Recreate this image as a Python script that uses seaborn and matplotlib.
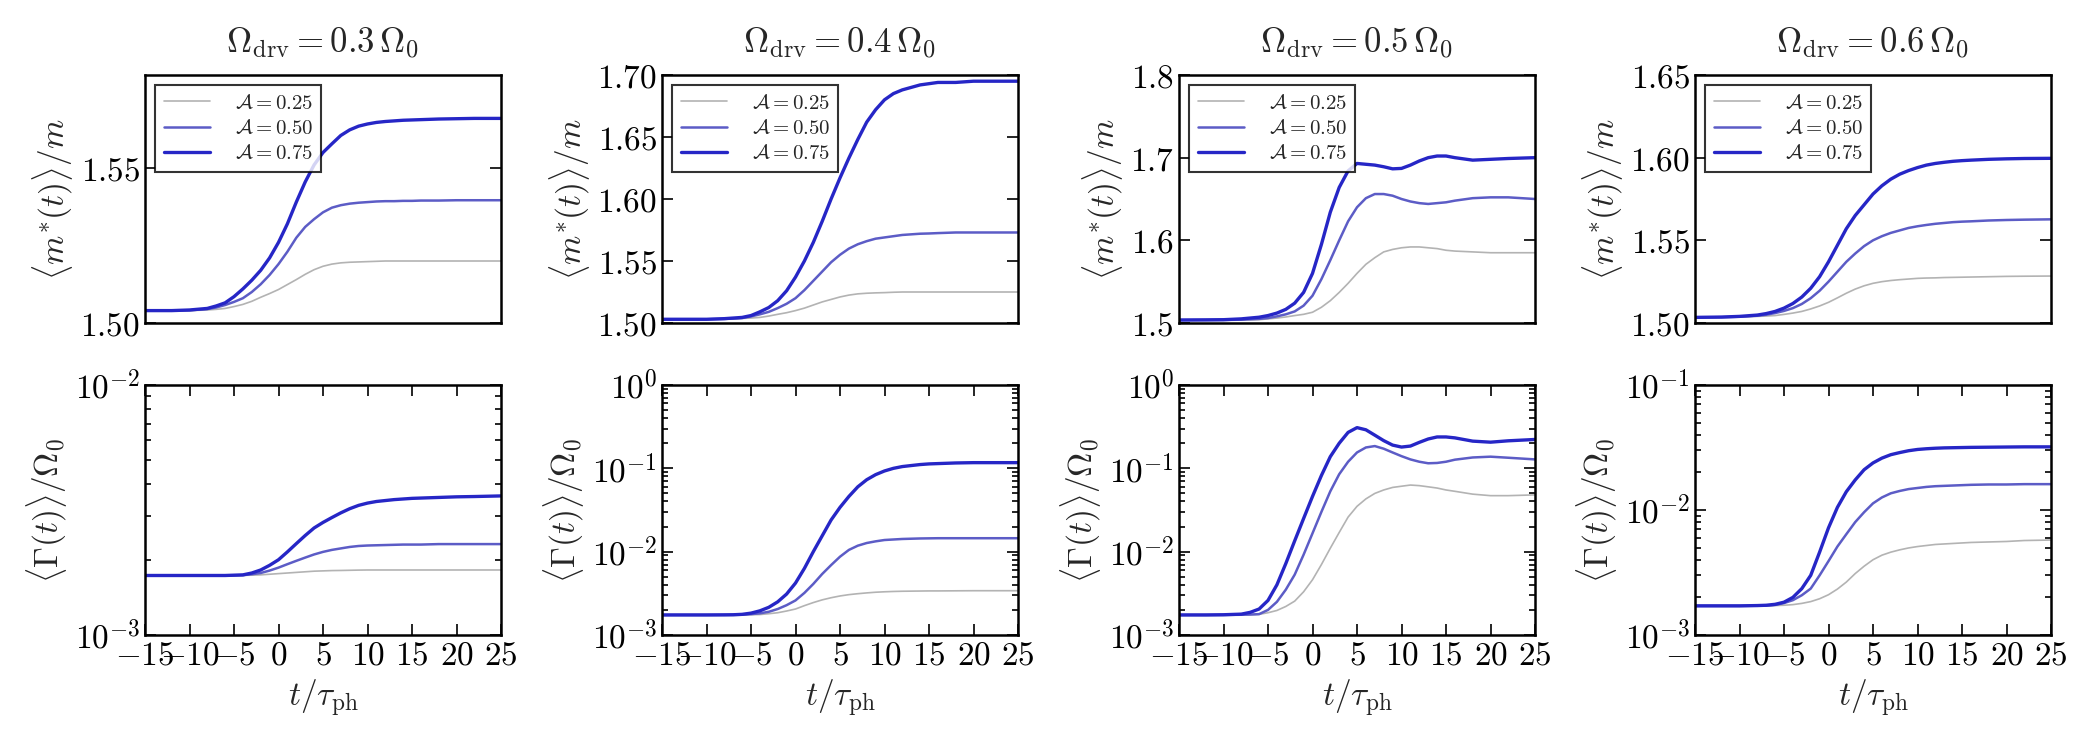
import numpy as np
import pandas as pd
import seaborn as sns
import matplotlib
matplotlib.use("Agg")
import matplotlib.pyplot as plt
from matplotlib.ticker import FuncFormatter, LogLocator, NullFormatter

# time grid (t / tau_ph) shared by all curves
t = [-15, -12, -10, -8, -7, -6, -5, -4, -3, -2, -1, 0, 1, 2, 3, 4, 5, 6, 7, 8,
     9, 10, 11, 12, 13, 14, 15, 16, 18, 20, 22, 25]

drive = ["0.3", "0.4", "0.5", "0.6"]
amp_labels = ["0.25", "0.50", "0.75"]

# effective mass <m*(t)>/m, one list per amplitude, per drive frequency
mass_03_a25 = [1.504, 1.504, 1.504, 1.5042, 1.5044, 1.5047, 1.5053, 1.506, 1.507, 1.5083, 1.5095, 1.5108, 1.5124, 1.514, 1.5157, 1.5172,
               1.5183, 1.519, 1.5194, 1.5196, 1.5197, 1.5198, 1.5199, 1.520, 1.520, 1.520, 1.520, 1.520, 1.520, 1.520, 1.520, 1.520]
mass_03_a50 = [1.504, 1.504, 1.5041, 1.5045, 1.505, 1.5058, 1.5068, 1.508, 1.51, 1.5125, 1.5155, 1.519, 1.523, 1.5275, 1.531, 1.5335,
               1.5357, 1.5372, 1.538, 1.5385, 1.5388, 1.539, 1.5392, 1.5393, 1.5393, 1.5394, 1.5394, 1.5395, 1.5395, 1.5396, 1.5396, 1.5396]
mass_03_a75 = [1.504, 1.504, 1.5042, 1.5047, 1.5055, 1.5065, 1.5085, 1.511, 1.5138, 1.517, 1.521, 1.526, 1.532, 1.539, 1.5455, 1.551,
               1.555, 1.5578, 1.5605, 1.5623, 1.5635, 1.5642, 1.5647, 1.565, 1.5652, 1.5654, 1.5655, 1.5656, 1.5658, 1.5659, 1.566, 1.566]

mass_04_a25 = [1.503, 1.503, 1.503, 1.5032, 1.5034, 1.5037, 1.504, 1.5045, 1.5056, 1.507, 1.5083, 1.510, 1.512, 1.5145, 1.517, 1.519,
               1.521, 1.5225, 1.5235, 1.524, 1.5243, 1.5245, 1.5248, 1.525, 1.525, 1.525, 1.525, 1.525, 1.525, 1.525, 1.525, 1.525]
mass_04_a50 = [1.503, 1.503, 1.503, 1.5033, 1.5036, 1.504, 1.5053, 1.507, 1.509, 1.512, 1.5155, 1.520, 1.5265, 1.534, 1.5415, 1.549,
               1.555, 1.560, 1.5635, 1.566, 1.568, 1.569, 1.570, 1.571, 1.5715, 1.572, 1.5722, 1.5725, 1.573, 1.573, 1.573, 1.573]
mass_04_a75 = [1.503, 1.503, 1.503, 1.5035, 1.504, 1.5045, 1.506, 1.509, 1.5125, 1.518, 1.526, 1.537, 1.550, 1.565, 1.582, 1.600,
               1.617, 1.633, 1.648, 1.662, 1.672, 1.680, 1.685, 1.688, 1.690, 1.692, 1.693, 1.694, 1.694, 1.695, 1.695, 1.695]

mass_05_a25 = [1.5036, 1.5036, 1.5036, 1.5037, 1.5038, 1.504, 1.505, 1.506, 1.5073, 1.509, 1.5105, 1.513, 1.519, 1.527, 1.537, 1.548,
               1.560, 1.571, 1.579, 1.586, 1.589, 1.591, 1.592, 1.592, 1.591, 1.590, 1.588, 1.587, 1.586, 1.585, 1.585, 1.585]
mass_05_a50 = [1.5036, 1.5036, 1.5037, 1.504, 1.5045, 1.505, 1.506, 1.508, 1.5105, 1.514, 1.521, 1.533, 1.553, 1.576, 1.600, 1.623,
               1.640, 1.651, 1.656, 1.656, 1.654, 1.650, 1.647, 1.645, 1.644, 1.645, 1.646, 1.648, 1.651, 1.652, 1.652, 1.650]
mass_05_a75 = [1.5036, 1.5038, 1.504, 1.505, 1.506, 1.507, 1.509, 1.512, 1.5165, 1.524, 1.537, 1.560, 1.595, 1.634, 1.664, 1.684,
               1.693, 1.692, 1.691, 1.689, 1.6865, 1.687, 1.691, 1.696, 1.700, 1.702, 1.702, 1.700, 1.697, 1.698, 1.699, 1.700]

mass_06_a25 = [1.5034, 1.5035, 1.5037, 1.504, 1.5042, 1.5045, 1.5052, 1.506, 1.507, 1.5085, 1.5103, 1.5125, 1.5152, 1.518, 1.5205, 1.5225,
               1.524, 1.525, 1.5257, 1.5262, 1.5266, 1.527, 1.5272, 1.5273, 1.5275, 1.5276, 1.5277, 1.5278, 1.528, 1.5282, 1.5283, 1.5284]
mass_06_a50 = [1.5034, 1.5035, 1.5038, 1.5044, 1.505, 1.506, 1.5073, 1.509, 1.5115, 1.515, 1.5195, 1.525, 1.531, 1.537, 1.542, 1.5465,
               1.550, 1.5525, 1.5545, 1.556, 1.5575, 1.5585, 1.5593, 1.560, 1.5605, 1.561, 1.5613, 1.5615, 1.562, 1.5623, 1.5625, 1.5627]
mass_06_a75 = [1.5034, 1.5036, 1.504, 1.5048, 1.5057, 1.507, 1.509, 1.5118, 1.5157, 1.521, 1.528, 1.537, 1.547, 1.557, 1.565, 1.5715,
               1.578, 1.583, 1.587, 1.590, 1.5922, 1.594, 1.5955, 1.5965, 1.5972, 1.5978, 1.5982, 1.5985, 1.599, 1.5993, 1.5995, 1.5996]

# scattering rate <Gamma(t)>/Omega_0, in units of 1e-3
gam_03_a25 = [1.73, 1.73, 1.73, 1.73, 1.73, 1.73, 1.73, 1.732, 1.735, 1.74, 1.75, 1.76, 1.77, 1.78, 1.79, 1.80,
              1.805, 1.81, 1.812, 1.815, 1.818, 1.82, 1.82, 1.82, 1.82, 1.82, 1.82, 1.82, 1.82, 1.82, 1.82, 1.82]
gam_03_a50 = [1.73, 1.73, 1.73, 1.73, 1.73, 1.73, 1.731, 1.735, 1.75, 1.77, 1.81, 1.86, 1.92, 1.98, 2.04, 2.10,
              2.15, 2.19, 2.22, 2.25, 2.27, 2.28, 2.285, 2.29, 2.295, 2.30, 2.30, 2.30, 2.31, 2.31, 2.31, 2.31]
gam_03_a75 = [1.73, 1.73, 1.73, 1.73, 1.73, 1.73, 1.735, 1.74, 1.77, 1.82, 1.90, 2.00, 2.15, 2.32, 2.50, 2.68,
              2.82, 2.95, 3.08, 3.20, 3.30, 3.37, 3.42, 3.45, 3.48, 3.50, 3.52, 3.53, 3.55, 3.57, 3.58, 3.60]

gam_04_a25 = [1.74, 1.74, 1.74, 1.74, 1.742, 1.745, 1.75, 1.76, 1.80, 1.85, 1.94, 2.05, 2.25, 2.45, 2.64, 2.80,
              2.94, 3.05, 3.13, 3.20, 3.26, 3.30, 3.33, 3.35, 3.36, 3.37, 3.38, 3.38, 3.39, 3.40, 3.40, 3.40]
gam_04_a50 = [1.74, 1.74, 1.74, 1.74, 1.742, 1.75, 1.78, 1.82, 1.90, 2.05, 2.28, 2.60, 3.2, 4.1, 5.4, 6.9,
              8.7, 10.5, 11.8, 12.7, 13.3, 13.8, 14.0, 14.2, 14.3, 14.4, 14.45, 14.5, 14.5, 14.5, 14.5, 14.5]
gam_04_a75 = [1.74, 1.74, 1.74, 1.745, 1.75, 1.77, 1.83, 1.95, 2.15, 2.5, 3.1, 4.2, 6.3, 10.0, 15.5, 24,
              34, 46, 60, 73, 84, 93, 100, 105, 108, 111, 113, 114, 116, 117, 117, 117]

gam_05_a25 = [1.74, 1.74, 1.74, 1.74, 1.75, 1.77, 1.85, 1.97, 2.2, 2.55, 3.3, 4.6, 7.0, 11, 17, 26,
              35, 43, 50, 55, 59, 61, 63, 62, 60, 58, 55, 53, 49, 47, 47, 48]
gam_05_a50 = [1.74, 1.74, 1.74, 1.75, 1.76, 1.78, 2.0, 2.5, 3.5, 5.3, 9.2, 16.6, 30, 53, 85, 120,
              155, 178, 185, 172, 155, 140, 128, 120, 115, 116, 120, 127, 135, 138, 134, 128]
gam_05_a75 = [1.74, 1.74, 1.75, 1.78, 1.87, 2.05, 2.6, 4.0, 7.2, 13.5, 25, 46, 82, 138, 200, 270,
              308, 290, 250, 215, 190, 180, 185, 205, 225, 238, 238, 232, 212, 206, 214, 222]

gam_06_a25 = [1.71, 1.71, 1.71, 1.71, 1.71, 1.72, 1.73, 1.75, 1.79, 1.85, 1.95, 2.10, 2.33, 2.65, 3.1, 3.55,
              4.0, 4.35, 4.6, 4.8, 4.97, 5.1, 5.2, 5.3, 5.35, 5.4, 5.45, 5.5, 5.55, 5.6, 5.7, 5.75]
gam_06_a50 = [1.71, 1.71, 1.71, 1.715, 1.72, 1.74, 1.80, 1.90, 2.08, 2.35, 3.0, 3.9, 5.1, 6.4, 8.0, 9.6,
              11.3, 12.6, 13.6, 14.2, 14.7, 15.0, 15.3, 15.5, 15.6, 15.7, 15.8, 15.9, 16.0, 16.0, 16.1, 16.1]
gam_06_a75 = [1.71, 1.71, 1.71, 1.72, 1.73, 1.76, 1.83, 2.0, 2.35, 3.0, 4.6, 7.2, 10.5, 14, 17.4, 21,
              23.8, 26, 27.7, 28.8, 29.8, 30.5, 30.9, 31.2, 31.4, 31.5, 31.6, 31.7, 31.8, 31.9, 32, 32]

mass = [
    [mass_03_a25, mass_03_a50, mass_03_a75],
    [mass_04_a25, mass_04_a50, mass_04_a75],
    [mass_05_a25, mass_05_a50, mass_05_a75],
    [mass_06_a25, mass_06_a50, mass_06_a75],
]
gamma = [
    [gam_03_a25, gam_03_a50, gam_03_a75],
    [gam_04_a25, gam_04_a50, gam_04_a75],
    [gam_05_a25, gam_05_a50, gam_05_a75],
    [gam_06_a25, gam_06_a50, gam_06_a75],
]

mass_ylim = [(1.50, 1.58), (1.50, 1.70), (1.5, 1.8), (1.50, 1.65)]
mass_ticks = [[1.50, 1.55], [1.50, 1.55, 1.60, 1.65, 1.70], [1.5, 1.6, 1.7, 1.8], [1.50, 1.55, 1.60, 1.65]]
mass_fmt = ["{:.2f}", "{:.2f}", "{:.1f}", "{:.2f}"]
gam_ylim = [(1e-3, 1e-2), (1e-3, 1e0), (1e-3, 1e0), (1e-3, 1e-1)]
xticks = [-15, -10, -5, 0, 5, 10, 15, 20, 25]

colors = ["#b3b3b3", "#5c5cc6", "#2626c6"]
widths = [1.2, 1.8, 2.4]

sns.set_style("ticks")
plt.rcParams["mathtext.fontset"] = "cm"
plt.rcParams["font.family"] = ["DejaVu Serif"]
plt.rcParams["axes.linewidth"] = 1.8
plt.rcParams["axes.edgecolor"] = "black"

fig = plt.figure(figsize=(21, 7.5), dpi=100)
lefts = [145, 662, 1179, 1695]
W, H = 2100, 750


def style_axis(ax):
    ax.tick_params(which="both", direction="in", top=True, right=True,
                   labelsize=24, colors="black", width=1.2)
    ax.tick_params(which="major", length=8)
    ax.tick_params(which="minor", length=4)


for i in range(4):
    ax_m = fig.add_axes([lefts[i] / W, (H - 323) / H, 356 / W, 248 / H])
    ax_g = fig.add_axes([lefts[i] / W, (H - 635) / H, 356 / W, 250 / H])

    for k in range(3):
        sns.lineplot(x=t, y=mass[i][k], ax=ax_m, color=colors[k], lw=widths[k],
                     label=r"$\mathcal{A} = " + amp_labels[k] + "$")
        sns.lineplot(x=t, y=np.array(gamma[i][k]) * 1e-3, ax=ax_g, color=colors[k],
                     lw=widths[k], legend=False)

    # upper row: effective mass
    ax_m.set_xlim(-15, 25)
    ax_m.set_ylim(*mass_ylim[i])
    ax_m.set_xticks([])
    ax_m.set_yticks(mass_ticks[i])
    fmt = mass_fmt[i]
    ax_m.yaxis.set_major_formatter(FuncFormatter(lambda v, p, f=fmt: "$" + f.format(v) + "$"))
    ax_m.set_ylabel(r"$\langle m^{*}(t)\rangle/m$", fontsize=24)
    ax_m.set_title(r"$\Omega_{\rm drv} = " + drive[i] + r"\,\Omega_0$", fontsize=25, pad=16)
    style_axis(ax_m)
    leg = ax_m.legend(loc="upper left", fontsize=15, frameon=True, fancybox=False,
                      handlelength=2.2, borderpad=0.4, labelspacing=0.3,
                      handletextpad=1.2, borderaxespad=0.5)
    leg.get_frame().set_edgecolor("black")
    leg.get_frame().set_linewidth(1.5)

    # lower row: scattering rate
    ax_g.set_yscale("log")
    ax_g.set_xlim(-15, 25)
    ax_g.set_ylim(*gam_ylim[i])
    ax_g.set_xticks(xticks)
    ax_g.xaxis.set_major_formatter(FuncFormatter(lambda v, p: "$%d$" % v))
    ax_g.yaxis.set_major_locator(LogLocator(base=10))
    ax_g.yaxis.set_minor_locator(LogLocator(base=10, subs=np.arange(2, 10)))
    ax_g.yaxis.set_minor_formatter(NullFormatter())
    ax_g.yaxis.set_major_formatter(
        FuncFormatter(lambda v, p: "$10^{%d}$" % int(round(np.log10(v)))))
    ax_g.set_ylabel(r"$\langle\Gamma(t)\rangle/\Omega_0$", fontsize=24)
    ax_g.set_xlabel(r"$t/\tau_{\rm ph}$", fontsize=24)
    style_axis(ax_g)

fig.savefig("out.png", dpi=100)
